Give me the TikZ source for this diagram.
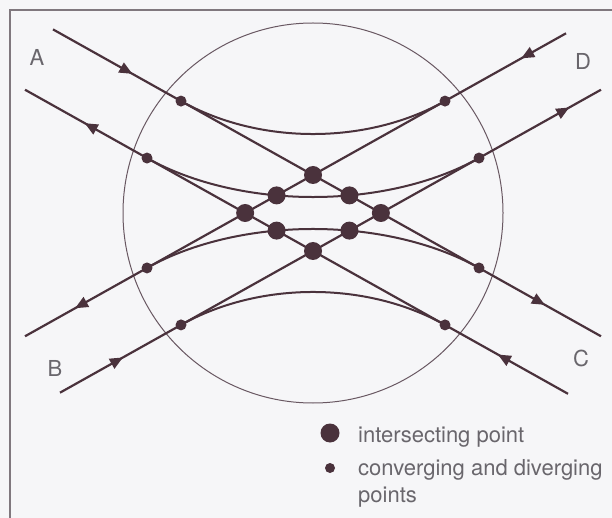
\documentclass[tikz,border=0pt]{standalone}
\usepackage{fontspec}
\setmainfont{TeX Gyre Heros}
\usetikzlibrary{arrows.meta,decorations.markings,intersections}
\definecolor{ink}{RGB}{74,50,60}
\definecolor{rim}{RGB}{105,88,98}
\definecolor{paper}{RGB}{246,246,248}
\definecolor{greytext}{RGB}{105,102,108}
\definecolor{framecol}{RGB}{128,120,126}
\begin{document}
\begin{tikzpicture}[x=1pt,y=-1pt,
  ray/.style={draw=ink, line width=2.2pt},
  arcline/.style={draw=ink, line width=2pt},
  bigdot/.style={circle, fill=ink, inner sep=0pt, minimum size=18pt},
  smalldot/.style={circle, fill=ink, inner sep=0pt, minimum size=11pt},
  arrowat/.style={postaction={decorate}, decoration={markings, mark=at position #1 with {\arrow{Triangle[length=13pt,width=11pt]}}}},
  lab/.style={font=\fontsize{22}{26}\selectfont, text=greytext, inner sep=0pt}
]
\fill[paper] (0,0) rectangle (612,518);
\useasboundingbox (0,0) rectangle (612,518);
\draw[framecol, line width=1.2pt] (612,10) -- (10,10) -- (10,518);

% circle
\node[circle, draw=rim, line width=1pt, minimum size=380pt, inner sep=0pt] (circ) at (313,213) {};

% key points
\coordinate (T) at (313,175);
\coordinate (Bv) at (313,251);
\coordinate (e1a) at (53,29.4);
\coordinate (e1c) at (601,336.28);
\coordinate (e2d) at (566,33.32);
\coordinate (e2b) at (25,336.28);
\coordinate (e3b) at (60,392.68);
\coordinate (e3d) at (601,89.72);
\coordinate (e4c) at (568,393.8);
\coordinate (e4a) at (25,89.72);

\coordinate (sA1) at (181,101.08);
\coordinate (sD1) at (445,101.08);
\coordinate (sA2) at (147,158.04);
\coordinate (sD2) at (479,158.04);
\coordinate (sB1) at (147,267.96);
\coordinate (sC1) at (479,267.96);
\coordinate (sB2) at (181,324.92);
\coordinate (sC2) at (445,324.92);

% invisible full lines for intersections
\path[name path=L1] (e1a) -- (e1c);
\path[name path=L2] (e2d) -- (e2b);
\path[name path=L3] (e3b) -- (e3d);
\path[name path=L4] (e4c) -- (e4a);

% straight lines
\draw[ray, arrowat=0.62] (e1a) -- (sA1);
\draw[ray] (sA1) -- (sC1);
\draw[ray, arrowat=0.54] (sC1) -- (e1c);

\draw[ray, arrowat=0.37] (e2d) -- (sD1);
\draw[ray] (sD1) -- (sB1);
\draw[ray, arrowat=0.59] (sB1) -- (e2b);

\draw[ray, arrowat=0.52] (e3b) -- (sB2);
\draw[ray] (sB2) -- (sD2);
\draw[ray, arrowat=0.74] (sD2) -- (e3d);

\draw[ray, arrowat=0.57] (e4c) -- (sC2);
\draw[ray] (sC2) -- (sA2);
\draw[ray, arrowat=0.51] (sA2) -- (e4a);

% curves
\draw[arcline, name path=C1] (sA1) .. controls (259.6,145) and (366.4,145) .. (sD1);
\draw[arcline, name path=C2] (sA2) .. controls (240,210) and (386,210) .. (sD2);
\draw[arcline, name path=C3] (sB1) .. controls (240,216) and (386,216) .. (sC1);
\draw[arcline, name path=C4] (sB2) .. controls (259.6,281) and (366.4,281) .. (sC2);

% intersections
\path[name intersections={of=L2 and L4, by=Lv}];
\path[name intersections={of=L1 and L3, by=Rv}];
\path[name intersections={of=C2 and L2, by=UL}];
\path[name intersections={of=C2 and L1, by=UR}];
\path[name intersections={of=C3 and L4, by=LL}];
\path[name intersections={of=C3 and L3, by=LR}];

\foreach \p in {T,Bv,Lv,Rv,UL,UR,LL,LR}
  \node[bigdot] (big\p) at (\p) {};
\foreach \p in {sA1,sD1,sA2,sD2,sB1,sC1,sB2,sC2}
  \node[smalldot] (dot\p) at (\p) {};

% labels
\node[lab] (labA) at (37,57) {A};
\node[lab] (labD) at (583,61) {D};
\node[lab] (labB) at (55,368) {B};
\node[lab] (labC) at (581,358) {C};

% legend
\node[bigdot, minimum size=19pt] (leg1) at (330,433) {};
\node[lab, anchor=base west] (legt1) at (358,442) {intersecting point};
\node[smalldot, minimum size=10pt] (leg2) at (330,468) {};
\node[lab, anchor=base west] (legt2) at (358,475) {converging and diverging};
\node[lab, anchor=base west] (legt3) at (358,502) {points};
\end{tikzpicture}
\end{document}
